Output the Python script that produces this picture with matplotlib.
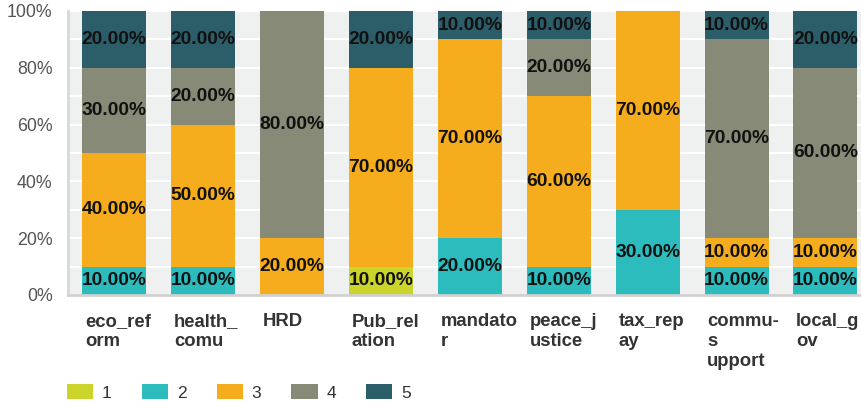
import numpy as np
import matplotlib
matplotlib.use("Agg")
import matplotlib.pyplot as plt
from matplotlib.patches import Patch

plt.rcParams['font.family'] = ['Liberation Sans', 'DejaVu Sans']

categories = ['eco_reform', 'health_comu', 'HRD', 'Pub_relation', 'mandator',
              'peace_justice', 'tax_repay', 'commu-support', 'local_gov']
tick_labels = ['eco_ref\norm', 'health_\ncomu', 'HRD', 'Pub_rel\nation', 'mandato\nr',
               'peace_j\nustice', 'tax_rep\nay', 'commu-\ns\nupport', 'local_g\nov']
series_names = ['1', '2', '3', '4', '5']
s1 = [0, 0, 0, 10, 0, 0, 0, 0, 0]
s2 = [10, 10, 0, 0, 20, 10, 30, 10, 10]
s3 = [40, 50, 20, 70, 70, 60, 70, 10, 10]
s4 = [30, 20, 80, 0, 0, 20, 0, 70, 60]
s5 = [20, 20, 0, 20, 10, 10, 0, 10, 20]
colors = ['#cbd42b', '#2dbcbd', '#f5ad1e', '#888a78', '#2c5e6a']

data = [s1, s2, s3, s4, s5]
x = np.arange(len(categories))
bar_w = 0.72

fig = plt.figure(figsize=(8.61, 4.03), dpi=100)
ax = fig.add_axes([0.079, 0.268, 0.921, 0.705])
ax.set_facecolor('#eff0f0')

bottom = np.zeros(len(categories))
for vals, col in zip(data, colors):
    vals = np.array(vals, dtype=float)
    ax.bar(x, vals, bar_w, bottom=bottom, color=col, zorder=2)
    for xi, b, v in zip(x, bottom, vals):
        if v > 0:
            ax.text(xi, b + v / 2, f'{v:.2f}%', ha='center', va='center',
                    fontsize=13.8, fontweight='bold', color='#111111', zorder=3)
    bottom += vals

ax.set_ylim(0, 100)
ax.set_xlim(-0.52, 8.4)
ax.set_yticks(np.arange(0, 101, 20))
ax.set_yticklabels([f'{v}%' for v in range(0, 101, 20)], fontsize=12.8, color='#555555')
ax.set_yticks(np.arange(10, 100, 20), minor=True)
ax.grid(axis='y', which='both', color='white', linewidth=1.5, zorder=1)
ax.tick_params(axis='y', which='both', length=0, pad=11)
ax.set_xticks([])

# wrapped category names under each bar, aligned to the bar's left edge
for xi, lab in zip(x, tick_labels):
    ax.text(xi - bar_w / 2 + 0.03, -6.5, lab, ha='left', va='top', fontsize=13.3,
            fontweight='bold', color='#333333', linespacing=1.2,
            transform=ax.transData, clip_on=False)

for side in ['top', 'right']:
    ax.spines[side].set_visible(False)
ax.spines['left'].set_color('#d8d8d8')
ax.spines['left'].set_linewidth(2)
ax.spines['bottom'].set_color('#d0d0d0')
ax.spines['bottom'].set_linewidth(2)

handles = [Patch(facecolor=c, edgecolor='none') for c in colors]
fig.legend(handles, series_names, loc='lower left', bbox_to_anchor=(0.078, 0.006),
           ncol=5, frameon=False, fontsize=12.5, handlelength=1.5, handleheight=0.9,
           columnspacing=1.75, handletextpad=0.5, labelcolor='#333333',
           borderpad=0, borderaxespad=0)

fig.savefig('out.png', dpi=100)
